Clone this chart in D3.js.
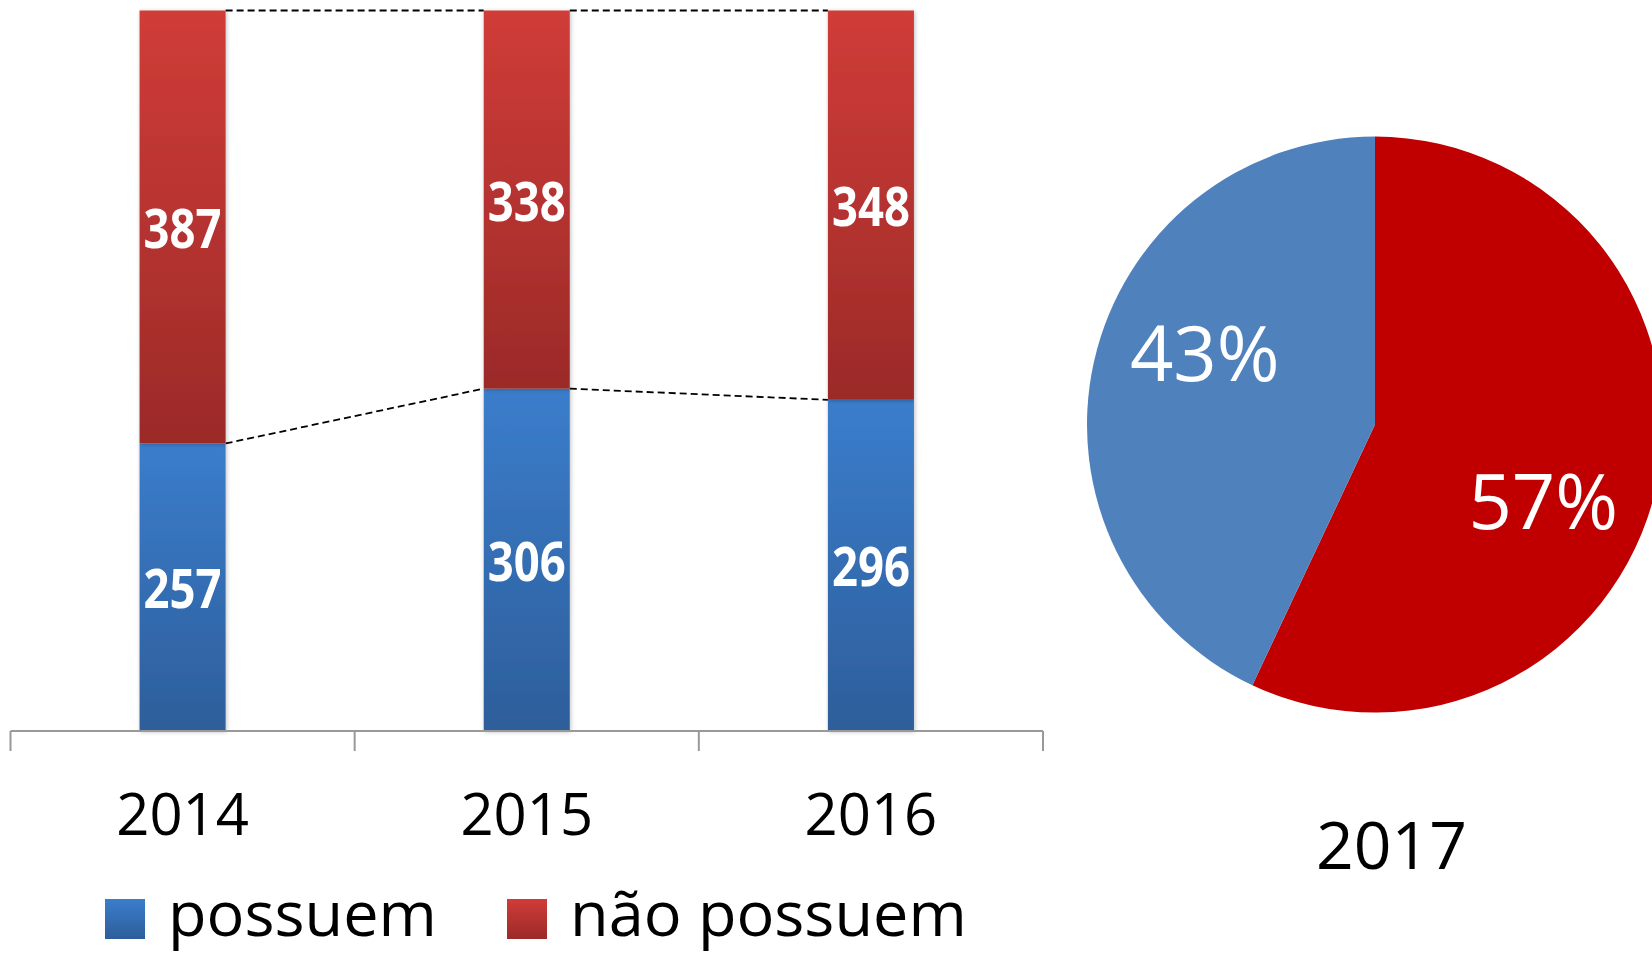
<!DOCTYPE html>
<html>
<head>
<meta charset="utf-8">
<script src="https://cdn.jsdelivr.net/npm/d3@7"></script>
<style>
  html, body { margin: 0; padding: 0; background: #fff; }
  svg { display: block; font-family: "Open Sans", "Noto Sans", sans-serif; }
</style>
</head>
<body>
<svg width="1652" height="954"></svg>
<script>
const years = ["2014", "2015", "2016"];
const possuem = [257, 306, 296];
const naoPossuem = [387, 338, 348];
const seriesNames = ["possuem", "não possuem"];

const pieYear = "2017";
const pieLabels = ["possuem", "não possuem"];
const pieValues = [43, 57];

const svg = d3.select("svg");

// gradientes das barras
const defs = svg.append("defs");
function grad(id, top, bottom) {
  const lg = defs.append("linearGradient").attr("id", id)
    .attr("x1", 0).attr("y1", 0).attr("x2", 0).attr("y2", 1);
  lg.append("stop").attr("offset", "0%").attr("stop-color", top);
  lg.append("stop").attr("offset", "100%").attr("stop-color", bottom);
}
grad("gBlue", "#3b7dcc", "#2d5e9a");
grad("gRed", "#d03c38", "#9b2a28");
const fills = ["url(#gBlue)", "url(#gRed)"];

const shadow = defs.append("filter").attr("id", "shadow")
  .attr("x", "-20%").attr("y", "-5%").attr("width", "140%").attr("height", "110%");
shadow.append("feDropShadow").attr("dx", 1).attr("dy", 1).attr("stdDeviation", 2)
  .attr("flood-color", "#000").attr("flood-opacity", 0.25);

// ---- barras empilhadas 100% ----
const rows = years.map((y, i) => ({ year: y, possuem: possuem[i], "não possuem": naoPossuem[i] }));
const stack = d3.stack().keys(seriesNames).offset(d3.stackOffsetExpand);
const layers = stack(rows);

const x = d3.scaleBand().domain(years).range([10.5, 1043])
  .paddingInner(0.75).paddingOuter(0.375);
const y = d3.scaleLinear().domain([0, 1]).range([731, 10.5]);

// linhas de série tracejadas
const lineG = svg.append("g");
layers.forEach(layer => {
  for (let i = 0; i < layer.length - 1; i++) {
    lineG.append("line")
      .attr("x1", x(years[i]) + x.bandwidth())
      .attr("x2", x(years[i + 1]))
      .attr("y1", y(layer[i][1]))
      .attr("y2", y(layer[i + 1][1]))
      .attr("stroke", "#000")
      .attr("stroke-width", 1.8)
      .attr("stroke-dasharray", "7,4");
  }
});

const barG = svg.append("g");
layers.forEach((layer, k) => {
  barG.selectAll(null)
    .data(layer)
    .join("rect")
    .attr("x", d => x(d.data.year))
    .attr("y", d => y(d[1]))
    .attr("width", x.bandwidth())
    .attr("height", d => y(d[0]) - y(d[1]))
    .attr("fill", fills[k])
    .attr("filter", "url(#shadow)");

  barG.selectAll(null)
    .data(layer)
    .join("text")
    .attr("x", d => x(d.data.year) + x.bandwidth() / 2)
    .attr("y", d => (y(d[0]) + y(d[1])) / 2 + 21)
    .attr("text-anchor", "middle")
    .attr("fill", "#fff")
    .attr("font-weight", "bold")
    .attr("font-size", 54)
    .attr("textLength", 78)
    .attr("lengthAdjust", "spacingAndGlyphs")
    .text(d => d.data[seriesNames[k]]);
});

// eixo x
const axisG = svg.append("g").attr("transform", "translate(0,731)");
const stepW = x.step();
axisG.append("line").attr("x1", 10.5).attr("x2", 1043).attr("stroke", "#999").attr("stroke-width", 2);
d3.range(years.length + 1).forEach(i => {
  const tx = 10.5 + i * stepW;
  axisG.append("line").attr("x1", tx).attr("x2", tx).attr("y1", 0).attr("y2", 20)
    .attr("stroke", "#999").attr("stroke-width", 2);
});
axisG.selectAll(".yr")
  .data(years)
  .join("text")
  .attr("class", "yr")
  .attr("x", d => x(d) + x.bandwidth() / 2)
  .attr("y", 104)
  .attr("text-anchor", "middle")
  .attr("font-size", 58)
  .attr("fill", "#000")
  .text(d => d);

// legenda
const legend = svg.append("g");
const legX = [105, 507];
seriesNames.forEach((name, i) => {
  legend.append("rect").attr("x", legX[i]).attr("y", 899).attr("width", 40).attr("height", 40)
    .attr("fill", fills[i]);
  legend.append("text").attr("x", legX[i] + 63).attr("y", 936)
    .attr("font-size", 63).attr("fill", "#000").text(name);
});

// ---- pizza 2017 ----
const pieColors = ["#4f81bd", "#c00000"];
const cx = 1375, cy = 424.6, r = 288;
const pie = d3.pie().sort(null).value(d => d)
  .startAngle(0).endAngle(2 * Math.PI);
// 57% no sentido horário a partir do topo, 43% restante
const arcs = pie([pieValues[1], pieValues[0]]);
const arc = d3.arc().innerRadius(0).outerRadius(r);
const pieG = svg.append("g").attr("transform", `translate(${cx},${cy})`);
pieG.selectAll("path")
  .data(arcs)
  .join("path")
  .attr("d", arc)
  .attr("fill", (d, i) => pieColors[1 - i]);

// posição dos rótulos ("melhor ajuste" do Excel)
const labelArc = d3.arc().innerRadius(r * 0.62).outerRadius(r * 0.62);
const labelShift = [[-6, 65], [4, -5]];
pieG.selectAll(".pl")
  .data(arcs)
  .join("text")
  .attr("class", "pl")
  .attr("x", (d, i) => labelArc.centroid(d)[0] + labelShift[i][0])
  .attr("y", (d, i) => labelArc.centroid(d)[1] + labelShift[i][1])
  .attr("text-anchor", "middle")
  .attr("font-size", 76)
  .attr("fill", "#fff")
  .text(d => d.data + "%");

svg.append("text")
  .attr("x", 1391.5).attr("y", 869)
  .attr("text-anchor", "middle")
  .attr("font-size", 66)
  .attr("fill", "#000")
  .text(pieYear);
</script>
</body>
</html>
